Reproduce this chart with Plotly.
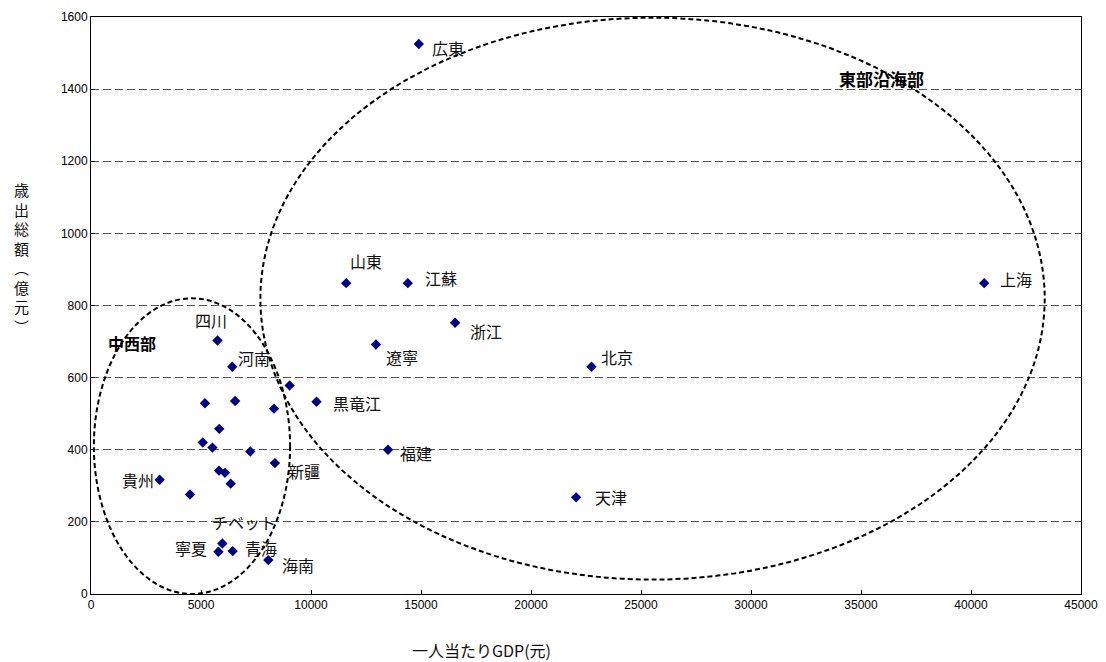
import plotly.graph_objects as go

# Data
regions = ["広東", "上海", "山東", "江蘇", "浙江", "遼寧", "北京", "黒竜江", "福建", "天津",
           "四川", "河南", "", "", "", "", "", "", "", "新疆", "",
           "", "", "", "貴州", "", "チベット", "寧夏", "青海", "海南"]
gdp_per_capita = [14900, 40600, 11600, 14400, 16550, 12950, 22750, 10250, 13500, 22050,
                  5750, 6420, 9030, 5180, 6550, 8320, 5830, 5080, 5520, 8360, 7240,
                  5820, 6090, 6350, 3120, 4500, 5970, 5790, 6440, 8060]
expenditure = [1525, 862, 862, 862, 752, 692, 630, 533, 400, 268,
               703, 630, 578, 529, 535, 514, 458, 420, 406, 363, 395,
               342, 336, 306, 317, 276, 140, 117, 119, 94]

x_ticks = [0, 5000, 10000, 15000, 20000, 25000, 30000, 35000, 40000, 45000]
y_ticks = [0, 200, 400, 600, 800, 1000, 1200, 1400, 1600]

# label offsets (pixels) relative to each point
label_offsets = {
    "広東": (29, -4), "上海": (32, 4), "山東": (20, 22), "江蘇": (33, 5), "浙江": (31, -8),
    "遼寧": (26, -13), "北京": (25, 10), "黒竜江": (40, -1), "福建": (28, -3), "天津": (35, 0),
    "四川": (-7, 20), "河南": (22, 9), "新疆": (29, -8), "貴州": (-22, 0), "チベット": (22, 22),
    "寧夏": (-27, 4), "青海": (28, 3), "海南": (30, -5),
}

fig = go.Figure()
fig.add_trace(go.Scatter(
    x=gdp_per_capita, y=expenditure, mode="markers",
    marker=dict(symbol="diamond", size=8, color="#000080"),
    hovertext=regions, showlegend=False,
))

cjk = "Noto Sans CJK JP"
annotations = []
for name, xv, yv in zip(regions, gdp_per_capita, expenditure):
    if not name:
        continue
    dx, dy = label_offsets[name]
    annotations.append(dict(x=xv, y=yv, xref="x", yref="y", text=name, showarrow=False,
                            xshift=dx, yshift=dy,
                            font=dict(family=cjk, size=16, color="#111")))

annotations.append(dict(x=35950, y=1430, xref="x", yref="y", text="<b>東部沿海部</b>",
                        showarrow=False, font=dict(family=cjk, size=17, color="black")))
annotations.append(dict(x=1870, y=695, xref="x", yref="y", text="<b>中西部</b>",
                        showarrow=False, font=dict(family=cjk, size=16, color="black")))
annotations.append(dict(xref="paper", yref="paper", x=-0.0697, y=0.583,
                        text="歳<br>出<br>総<br>額<br>︵<br>億<br>元<br>︶",
                        showarrow=False, xanchor="center", yanchor="middle",
                        font=dict(family=cjk, size=15, color="#111")))
annotations.append(dict(xref="paper", yref="paper", x=(481 - 91) / 990, y=-(650 - 594) / 577,
                        text="一人当たりGDP(元)", showarrow=False,
                        xanchor="center", yanchor="middle",
                        font=dict(family=cjk, size=16, color="#111")))

# the page body adds an 8px offset, so the figure is sized to fit the window
fig.update_layout(
    width=1098, height=654,
    margin=dict(l=83, r=25, t=9, b=68),
    paper_bgcolor="white", plot_bgcolor="white",
    annotations=annotations,
    shapes=[
        dict(type="circle", xref="x", yref="y", x0=7700, x1=43350, y0=40, y1=1598,
             line=dict(color="black", width=2, dash="5px,3px")),
        dict(type="circle", xref="x", yref="y", x0=130, x1=9050, y0=0, y1=820,
             line=dict(color="black", width=2, dash="5px,3px")),
    ],
    xaxis=dict(range=[0, 45000], tickvals=x_ticks, ticktext=[str(v) for v in x_ticks],
               automargin=False,
               showgrid=False, zeroline=False, showline=True, linecolor="black", linewidth=1,
               mirror=True, ticks="inside", ticklen=4, tickcolor="black",
               tickfont=dict(family="Liberation Sans, Arial", size=12, color="black")),
    yaxis=dict(range=[0, 1600], tickvals=y_ticks, ticktext=[str(v) for v in y_ticks],
               automargin=False,
               showgrid=True, gridcolor="#555", gridwidth=1, griddash="8px,4px",
               zeroline=False, showline=True, linecolor="black", linewidth=1,
               mirror=True, ticks="inside", ticklen=4, tickcolor="black",
               tickfont=dict(family="Liberation Sans, Arial", size=12, color="black")),
)

fig.write_html("out.html")
